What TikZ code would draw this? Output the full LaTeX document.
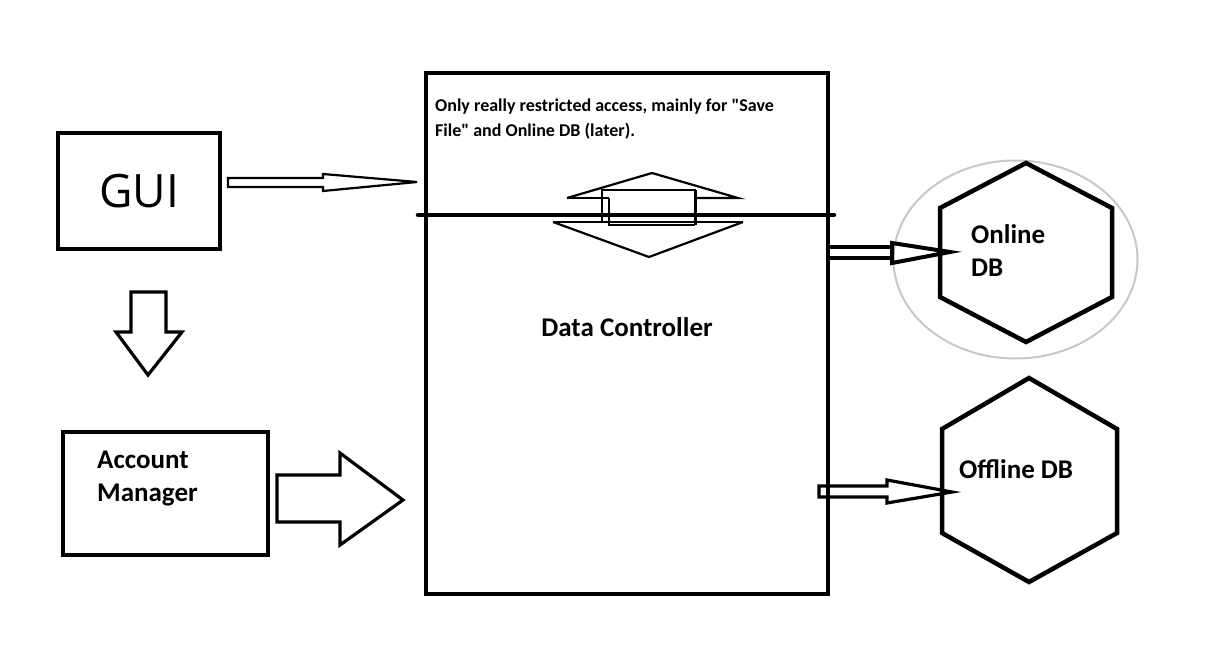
\documentclass[tikz,border=0pt]{standalone}
\usepackage{fontspec}
\setmainfont{Carlito}[Ligatures=TeXOff]
\newfontfamily\myhandfont{Open Sans}
\newcommand\mybiglab{\bfseries\fontsize{27}{33}\selectfont}
\newcommand\mynotelab{\bfseries\fontsize{18}{25}\selectfont}
\definecolor{ringgray}{RGB}{200,200,200}
\begin{document}
\begin{tikzpicture}[x=1pt,y=-1pt,line join=miter,
  box/.style={draw, line width=4.5pt, inner sep=0pt},
  hexline/.style={draw, line width=4.5pt},
  blockarrow/.style={draw, line width=3.2pt},
  thinarrow/.style={draw, line width=2.2pt},
  lab/.style={inner sep=0pt, font=\mybiglab, align=left}]
\useasboundingbox[fill=white] (0,0) rectangle (1207,659);

% boxes
\node[box, minimum width=162pt, minimum height=116pt,
      font=\myhandfont\fontsize{46}{46}\selectfont] (gui) at (139,191) {GUI};
\node[box, minimum width=205pt, minimum height=123pt] (acct) at (165.5,493.5) {};
\node[lab, anchor=north west] (acctlabel) at (97,451) {Account\\Manager};
\node[box, minimum width=402pt, minimum height=521pt] (dc) at (627,333.5) {};
\node[inner sep=0pt, font=\mynotelab, align=left, anchor=north west] (note) at (435,99)
  {Only really restricted access, mainly for "Save\\File" and Online DB (later).};
\node[lab] (dclabel) at (627,327) {Data Controller};

% divider line across the controller
\coordinate (divL) at (418,215);
\coordinate (divR) at (834,215);
\draw[line width=4.5pt, line cap=round] (divL) -- (divR);

% double arrow in the controller
\draw[line width=2.2pt] (567,198) -- (652,173) -- (738,198) -- (695,198);
\draw[line width=2.2pt] (567,198) -- (609,198);
\draw[line width=2.2pt] (602,190) rectangle (695,222);
\draw[line width=2.2pt] (609,198) -- (609,225) -- (695,225);
\draw[line width=3pt] (695,190) -- (695,225);
\draw[line width=2.2pt] (553,222) -- (602,222);
\draw[line width=2.2pt] (695,222) -- (743,222);
\draw[line width=2.2pt] (553,222) -- (649,257) -- (743,222);

% GUI -> controller
\draw[thinarrow] (228,178) -- (323,178) -- (323,174) -- (417,182) -- (323,191) -- (323,187) -- (228,187) -- cycle;
% GUI -> account manager (down arrow)
\draw[blockarrow] (131,292) -- (166,292) -- (166,332) -- (182,332) -- (148,375) -- (116,332) -- (131,332) -- cycle;
% account manager -> controller
\draw[blockarrow] (277,475) -- (340,475) -- (340,453) -- (403,500) -- (340,545) -- (340,522) -- (277,522) -- cycle;

% Online DB
\draw[ringgray, line width=2pt] (1015.5,259.5) ellipse [x radius=122, y radius=99];
\draw[hexline] (1026,163) -- (1112,208) -- (1112,297) -- (1026,342) -- (940,297) -- (940,208) -- cycle;
\node[lab, anchor=north west] (onlinelabel) at (971,224) {Online\\DB};
% controller -> Online DB
\draw[line width=4pt] (830,247) -- (892,247);
\draw[line width=4pt] (830,258) -- (892,258);
\draw[line width=4pt] (892,243) -- (950,252) -- (892,263) -- cycle;

% Offline DB
\draw[hexline] (1029,378) -- (1117,429) -- (1117,533) -- (1029,582) -- (942,533) -- (942,429) -- cycle;
\node[lab, anchor=north west] (offlinelabel) at (959,459) {Offline DB};
% controller -> Offline DB
\draw[blockarrow] (819,486) -- (887,486) -- (887,480) -- (952,492) -- (887,503) -- (887,497) -- (819,497) -- cycle;
\end{tikzpicture}
\end{document}
